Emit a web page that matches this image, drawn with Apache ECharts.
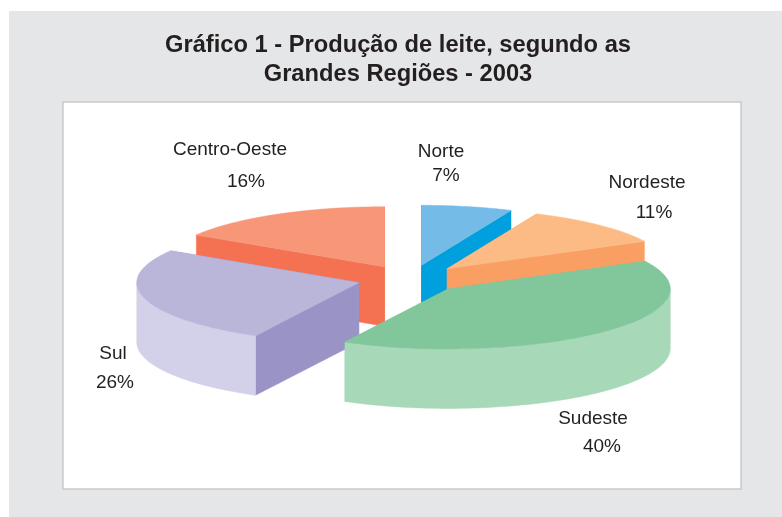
<!DOCTYPE html>
<html>
<head>
<meta charset="utf-8">
<style>
  html, body { margin: 0; padding: 0; background: #fff; }
  #chart { width: 782px; height: 517px; }
</style>
<script src="https://cdn.jsdelivr.net/npm/echarts@6/dist/echarts.min.js"></script>
</head>
<body>
<div id="chart"></div>
<script>
const categories = ['Norte', 'Nordeste', 'Sudeste', 'Sul', 'Centro-Oeste']
// the labels round them
const shares = [6.6, 10.8, 40.3, 26.2, 16.1]

const topColors = ['#74BBE8', '#FCBB84', '#81C79B', '#BAB6DA', '#F79778']
const faceColors = ['#009FDD', '#F99F63', '#81C79B', '#9A94C6', '#F47151']
const wallColors = ['#009FDD', '#F99F63', '#A7D8B8', '#D3D1EA', '#F47151']
const drawRank = [1, 2, 4, 3, 0]

// label anchors (name x, name y, percent x, percent y)
const labelPos = [
  [441, 152, 446, 176],
  [647, 183, 654, 213],
  [593, 419, 602, 447],
  [113, 354, 115, 383],
  [230, 150, 246, 182]
]

const pie = { cx: 410.5, cy: 279, rx: 222, ry: 60, depth: 59.5, ex: 53.6, ey: 14 }
const DEG = Math.PI / 180

function arcPoints(ox, oy, from, to, dy) {
  const pts = []
  const n = Math.max(2, Math.ceil(Math.abs(to - from)))
  for (let i = 0; i <= n; i++) {
    const t = (from + (to - from) * i / n) * DEG
    pts.push([ox + pie.rx * Math.sin(t), oy - pie.ry * Math.cos(t) + dy])
  }
  return pts
}

function renderSlice(params, api) {
  const idx = api.value(0)
  const total = shares.reduce((a, b) => a + b, 0)
  let start = 0
  for (let i = 0; i < idx; i++) start += shares[i] / total * 360
  const end = start + api.value(1) / total * 360
  const mid = (start + end) / 2 * DEG
  const ox = pie.cx + pie.ex * Math.sin(mid)
  const oy = pie.cy - pie.ey * Math.cos(mid)
  const base = drawRank[idx] * 10
  const children = []

  const poly = (points, fill, z) => children.push({
    type: 'polygon',
    z2: base + z,
    shape: { points: points },
    style: { fill: fill, stroke: fill, lineWidth: 0.5 }
  })

  const d = pie.depth
  const s = arcPoints(ox, oy, start, start, 0)[0]
  const e = arcPoints(ox, oy, end, end, 0)[0]
  poly([[ox, oy], s, [s[0], s[1] + d], [ox, oy + d]], faceColors[idx], 0)
  poly([[ox, oy], e, [e[0], e[1] + d], [ox, oy + d]], faceColors[idx], 1)

  const wallFrom = Math.max(start, 90)
  const wallTo = Math.min(end, 270)
  if (wallTo > wallFrom) {
    const upper = arcPoints(ox, oy, wallFrom, wallTo, 0)
    const lower = arcPoints(ox, oy, wallFrom, wallTo, d).reverse()
    poly(upper.concat(lower), wallColors[idx], 2)
  }

  poly([[ox, oy]].concat(arcPoints(ox, oy, start, end, 0)), topColors[idx], 3)
  return { type: 'group', children: children }
}

const labelText = []
categories.forEach((name, i) => {
  const p = labelPos[i]
  const style = { fill: '#231F20', fontFamily: 'Liberation Sans', fontSize: 19, textAlign: 'center', textVerticalAlign: 'middle' }
  labelText.push({ type: 'text', x: p[0], y: p[1], z: 10, style: Object.assign({ text: name }, style) })
  labelText.push({ type: 'text', x: p[2], y: p[3], z: 10, style: Object.assign({ text: Math.round(shares[i]) + '%' }, style) })
})

const chart = echarts.init(document.getElementById('chart'))
chart.setOption({
  animation: false,
  backgroundColor: '#fff',
  title: {
    text: 'Gráfico 1 - Produção de leite, segundo as\nGrandes Regiões - 2003',
    left: 393,
    top: 26,
    textAlign: 'center',
    textStyle: {
      fontFamily: 'Liberation Sans',
      fontSize: 23.7,
      fontWeight: 'bold',
      color: '#231F20',
      lineHeight: 29
    }
  },
  graphic: [
    { type: 'rect', z: -10, shape: { x: 9, y: 11, width: 773, height: 506 }, style: { fill: '#E5E6E8' } },
    { type: 'rect', z: -9, shape: { x: 63, y: 102, width: 678, height: 387 }, style: { fill: '#fff', stroke: '#C9CACC', lineWidth: 1.5 } }
  ].concat(labelText),
  series: [{
    type: 'custom',
    coordinateSystem: 'none',
    renderItem: renderSlice,
    silent: true,
    data: shares.map((v, i) => [i, v])
  }]
})
</script>
</body>
</html>
